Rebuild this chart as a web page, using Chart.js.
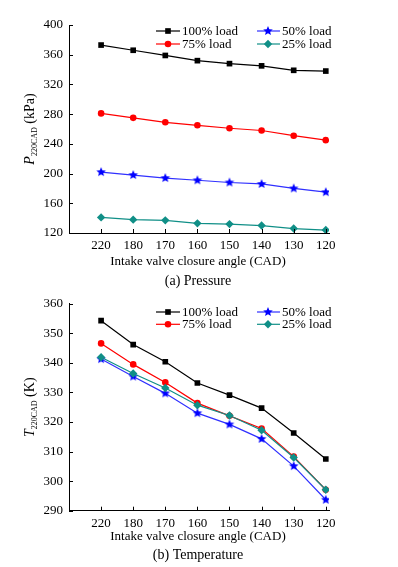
<!DOCTYPE html>
<html>
<head>
<meta charset="utf-8">
<script src="https://cdn.jsdelivr.net/npm/chart.js@4"></script>
<style>
  html, body { margin: 0; padding: 0; background: #fff; }
  #wrap { position: relative; width: 398px; height: 567px; }
  .box { position: absolute; left: 0; width: 398px; }
</style>
</head>
<body>
<div id="wrap">
  <div class="box" style="top:0;height:290px"><canvas id="pChart"></canvas></div>
  <div class="box" style="top:290px;height:277px"><canvas id="tChart"></canvas></div>
</div>
<script>
// categories (intake valve closure angle, CAD)
const angles = ['220', '180', '170', '160', '150', '140', '130', '120'];
const loadNames = ['100% load', '75% load', '50% load', '25% load'];

// (a) pressure at 220 CAD, kPa
const pressure100 = [373, 366, 359, 352, 348, 345, 339, 338];
const pressure75 = [281, 275, 269, 265, 261, 258, 251, 245];
const pressure50 = [202, 198, 194, 191, 188, 186, 180, 175];
const pressure25 = [141, 138, 137, 133, 132, 130, 126, 124];

// (b) temperature at 220 CAD, K
const temp100 = [354.3, 346.2, 340.4, 333.2, 329.1, 324.7, 316.3, 307.5];
const temp75 = [346.6, 339.5, 333.4, 326.4, 322.1, 317.8, 308.3, 297.1];
const temp50 = [341.3, 335.4, 329.7, 323.0, 319.2, 314.3, 305.1, 293.7];
const temp25 = [341.9, 336.4, 331.5, 325.7, 322.2, 317.2, 308.0, 297.1];

const SERIF = '"Liberation Serif", "Times New Roman", serif';
const colors = ['#000000', '#ff0000', '#0000ff', '#108f87'];

// filled five point star, chart.js 'star' is only an asterisk
function makeStar(r, color) {
    const s = Math.ceil(r * 2) + 2;
    const c = document.createElement('canvas');
    c.width = s; c.height = s;
    const g = c.getContext('2d');
    g.fillStyle = color;
    g.beginPath();
    for (let i = 0; i < 10; i++) {
        const rr = i % 2 ? r * 0.45 : r;
        const a = -Math.PI / 2 + i * Math.PI / 5;
        g.lineTo(s / 2 + rr * Math.cos(a), s / 2 + rr * Math.sin(a));
    }
    g.closePath();
    g.fill();
    return c;
}
const starImg = makeStar(5, '#0000ff');

const markers = [
    { style: 'rect', radius: 4 },
    { style: 'circle', radius: 3.3 },
    { style: starImg, radius: 5 },
    { style: 'rectRot', radius: 4.2 }
];
const drawOrder = [3, 1, 2, 0];

function makeDatasets(seriesList) {
    return seriesList.map((values, i) => ({
        label: loadNames[i],
        data: values.map((v, k) => ({ x: k, y: v })),
        borderColor: i === 2 ? '#3030ff' : colors[i],
        backgroundColor: colors[i],
        borderWidth: 1.2,
        pointStyle: markers[i].style,
        pointRadius: markers[i].radius,
        pointBorderWidth: 0,
        pointBackgroundColor: colors[i],
        tension: 0,
        order: drawOrder[i]
    }));
}

function drawMarker(ctx, i, x, y) {
    const m = markers[i];
    ctx.fillStyle = colors[i];
    ctx.beginPath();
    if (m.style === 'rect') {
        const h = m.radius * Math.SQRT1_2;
        ctx.rect(x - h, y - h, 2 * h, 2 * h);
    } else if (m.style === 'circle') {
        ctx.arc(x, y, m.radius, 0, Math.PI * 2);
    } else if (m.style === 'rectRot') {
        const r = m.radius;
        ctx.moveTo(x, y - r); ctx.lineTo(x + r, y); ctx.lineTo(x, y + r); ctx.lineTo(x - r, y);
        ctx.closePath();
    } else {
        ctx.drawImage(m.style, x - m.style.width / 2, y - m.style.height / 2);
        return;
    }
    ctx.fill();
}

// inward ticks, y title with subscript, x title, caption and the two column legend
function decorPlugin(cfg) {
    return {
        id: 'decor',
        afterDraw(chart) {
            const ctx = chart.ctx;
            const a = chart.chartArea;
            const xs = chart.scales.x, ys = chart.scales.y;
            ctx.save();
            ctx.strokeStyle = '#000';
            ctx.lineWidth = 1;
            ctx.beginPath();
            ys.ticks.forEach(t => {
                const y = Math.round(ys.getPixelForValue(t.value)) + 0.5;
                ctx.moveTo(a.left, y); ctx.lineTo(a.left + 4, y);
            });
            xs.ticks.forEach(t => {
                const x = Math.round(xs.getPixelForValue(t.value)) + 0.5;
                ctx.moveTo(x, a.bottom); ctx.lineTo(x, a.bottom - 4);
            });
            ctx.stroke();

            const cx = 198;
            ctx.fillStyle = '#000';
            ctx.textAlign = 'center';
            ctx.textBaseline = 'middle';
            ctx.font = '13px ' + SERIF;
            ctx.fillText('Intake valve closure angle (CAD)', cx, cfg.xTitleY);
            ctx.font = '14px ' + SERIF;
            ctx.fillText(cfg.caption, cx, cfg.captionY);

            // rotated y title
            const mainFont = 'italic 14px ' + SERIF;
            const subFont = '8px ' + SERIF;
            const restFont = '14px ' + SERIF;
            ctx.font = mainFont; const w1 = ctx.measureText(cfg.yVar).width;
            ctx.font = subFont; const w2 = ctx.measureText('220CAD').width;
            ctx.font = restFont; const w3 = ctx.measureText(' ' + cfg.yUnit).width;
            const total = w1 + w2 + w3;
            ctx.translate(34, (a.top + a.bottom) / 2);
            ctx.rotate(-Math.PI / 2);
            ctx.textAlign = 'left';
            ctx.textBaseline = 'alphabetic';
            let px = -total / 2;
            ctx.font = mainFont; ctx.fillText(cfg.yVar, px, 0); px += w1;
            ctx.font = subFont; ctx.fillText('220CAD', px, 3); px += w2;
            ctx.font = restFont; ctx.fillText(' ' + cfg.yUnit, px, 0);
            ctx.setTransform(1, 0, 0, 1, 0, 0);

            // legend
            const cols = [{ l0: 156, l1: 180, mx: 168, tx: 182 }, { l0: 257, l1: 280, mx: 268, tx: 282 }];
            const slot = [[0, 0], [0, 1], [1, 0], [1, 1]];
            ctx.font = '13px ' + SERIF;
            ctx.textBaseline = 'middle';
            ctx.textAlign = 'left';
            chart.data.datasets.forEach((ds, i) => {
                const c = cols[slot[i][0]];
                const y = cfg.legendY[slot[i][1]];
                ctx.strokeStyle = ds.borderColor;
                ctx.lineWidth = 1.2;
                ctx.beginPath();
                ctx.moveTo(c.l0, y); ctx.lineTo(c.l1, y);
                ctx.stroke();
                drawMarker(ctx, i, c.mx, y);
                ctx.fillStyle = '#000';
                ctx.fillText(ds.label, c.tx, y + 0.5);
            });
            ctx.restore();
        }
    };
}

function makeChart(id, seriesList, yMin, yMax, yStep, padTop, xHeight, cfg) {
    return new Chart(document.getElementById(id), {
        type: 'line',
        data: { datasets: makeDatasets(seriesList) },
        options: {
            responsive: true,
            maintainAspectRatio: false,
            animation: false,
            layout: { padding: { top: padTop, right: 69, left: 0, bottom: 0 } },
            plugins: { legend: { display: false }, tooltip: { enabled: false } },
            scales: {
                x: {
                    type: 'linear',
                    min: -1,
                    max: 7.1,
                    afterBuildTicks: s => { s.ticks = angles.map((_, k) => ({ value: k })); },
                    afterFit: s => { s.height = xHeight; },
                    grid: { display: false, drawTicks: false },
                    border: { display: true, color: '#000', width: 1 },
                    ticks: {
                        autoSkip: false,
                        maxRotation: 0,
                        padding: 5,
                        color: '#000',
                        font: { family: SERIF, size: 13 },
                        callback: v => angles[v] || ''
                    }
                },
                y: {
                    min: yMin,
                    max: yMax,
                    afterFit: s => { s.width = 69; },
                    grid: { display: false, drawTicks: false },
                    border: { display: true, color: '#000', width: 1 },
                    ticks: {
                        stepSize: yStep,
                        padding: 6,
                        color: '#000',
                        font: { family: SERIF, size: 13 }
                    }
                }
            }
        },
        plugins: [decorPlugin(cfg)]
    });
}

makeChart('pChart', [pressure100, pressure75, pressure50, pressure25], 120, 400, 40, 25, 57, {
    caption: '(a) Pressure', yVar: 'P', yUnit: '(kPa)',
    xTitleY: 262, captionY: 281, legendY: [31, 44]
});
makeChart('tChart', [temp100, temp75, temp50, temp25], 290, 360, 10, 12.7, 56.3, {
    caption: '(b) Temperature', yVar: 'T', yUnit: '(K)',
    xTitleY: 246.7, captionY: 265, legendY: [22, 34.3]
});
</script>
</body>
</html>
